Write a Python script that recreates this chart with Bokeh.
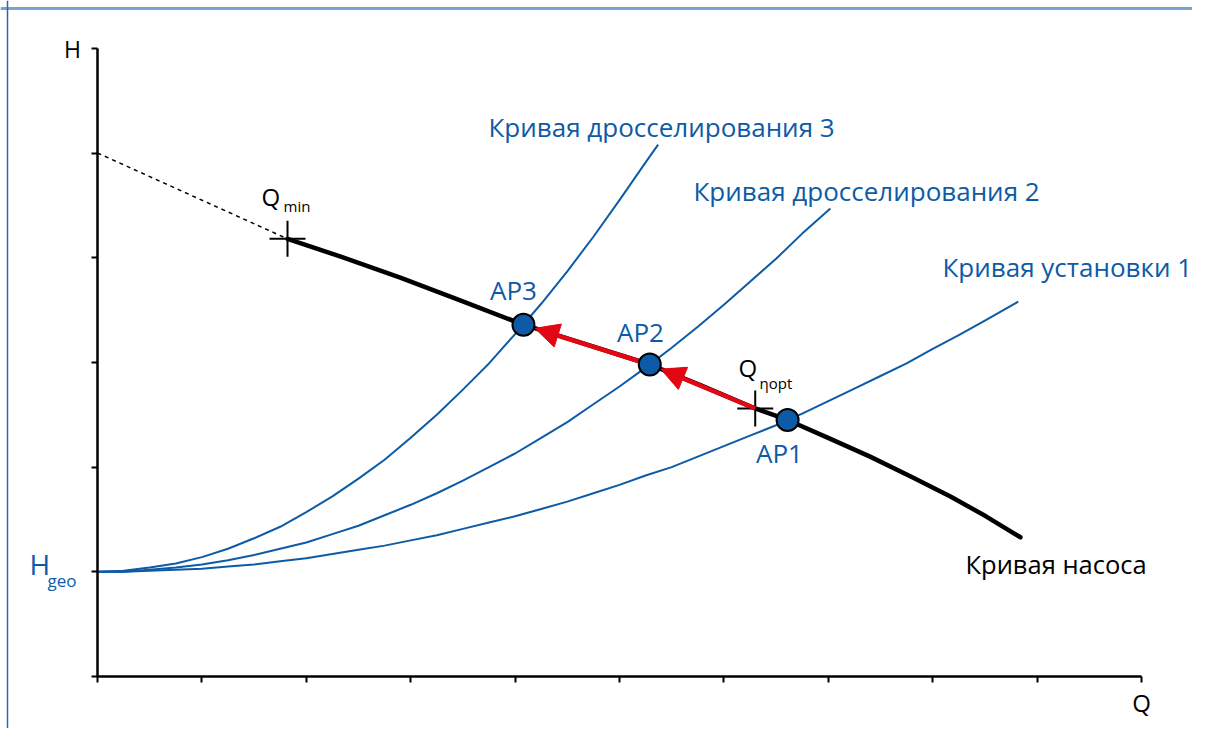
from math import hypot
from bokeh.plotting import figure
from bokeh.models import LinearAxis, FixedTicker, Span, Label, Arrow, NormalHead
from bokeh.embed import file_html
from bokeh.resources import INLINE

# ---------------- data ----------------
# pump curve (solid part, from Q_min onward)
q_pump = [1.82, 2.33, 2.90, 3.48, 4.08, 4.72, 5.29, 5.78, 6.30, 6.61, 7.02, 7.40, 7.79, 8.17, 8.51, 8.84]
h_pump = [4.18, 4.01, 3.81, 3.59, 3.36, 3.16, 2.98, 2.78, 2.56, 2.45, 2.27, 2.10, 1.91, 1.72, 1.53, 1.33]
# pump curve below Q_min (dashed)
q_pump_dash = [0.0, 1.82]
h_pump_dash = [5.0, 4.18]

# system curve 1 (Кривая установки 1)
q_sys1 = [0.0, 0.25, 0.5, 0.75, 1.0, 1.25, 1.5, 1.75, 2.0, 2.25, 2.5, 2.75, 3.0, 3.25, 3.5, 3.75,
          4.0, 4.25, 4.5, 4.75, 5.0, 5.25, 5.5, 5.75, 6.0, 6.25, 6.5, 6.75, 7.0, 7.25, 7.5, 7.75,
          8.0, 8.25, 8.5, 8.82]
h_sys1 = [1.00, 1.00, 1.01, 1.02, 1.03, 1.05, 1.07, 1.10, 1.13, 1.17, 1.21, 1.25, 1.30, 1.35, 1.41, 1.47,
          1.53, 1.60, 1.67, 1.75, 1.83, 1.92, 2.00, 2.10, 2.20, 2.30, 2.40, 2.51, 2.63, 2.75, 2.87, 2.99,
          3.13, 3.26, 3.40, 3.58]
# throttle curve 2
q_thr2 = [0.0, 0.25, 0.5, 0.75, 1.0, 1.25, 1.5, 1.75, 2.0, 2.25, 2.5, 2.75, 3.0, 3.25, 3.5, 3.75,
          4.0, 4.25, 4.5, 4.75, 5.0, 5.25, 5.5, 5.75, 6.0, 6.25, 6.5, 6.75, 7.02]
h_thr2 = [1.00, 1.00, 1.02, 1.04, 1.07, 1.11, 1.16, 1.22, 1.28, 1.36, 1.44, 1.54, 1.64, 1.75, 1.87, 2.00,
          2.13, 2.28, 2.43, 2.60, 2.77, 2.95, 3.14, 3.34, 3.55, 3.77, 3.99, 4.23, 4.47]
# throttle curve 3
q_thr3 = [0.0, 0.25, 0.5, 0.75, 1.0, 1.25, 1.5, 1.75, 2.0, 2.25, 2.5, 2.75, 3.0, 3.25, 3.5, 3.75,
          4.0, 4.25, 4.5, 4.75, 5.0, 5.25, 5.37]
h_thr3 = [1.00, 1.01, 1.04, 1.08, 1.14, 1.22, 1.32, 1.43, 1.57, 1.72, 1.89, 2.07, 2.28, 2.50, 2.74, 2.99,
          3.27, 3.56, 3.87, 4.20, 4.55, 4.91, 5.08]

# operating points
ap_names = ["AP1", "AP2", "AP3"]
ap_q = [6.61, 5.29, 4.08]
ap_h = [2.45, 2.98, 3.36]

# characteristic points (crosses): Q_min, Q_eta_opt
q_marks = [1.82, 6.30]
h_marks = [4.18, 2.56]

x_ticks = [0, 1, 2, 3, 4, 5, 6, 7, 8, 9, 10]
y_ticks = [0, 1, 2, 3, 4, 5, 6]

# ---------------- styling ----------------
BLUE = "#0d5ba6"
RED = "#e30613"
FONT = "Open Sans"
W, H = 1192, 728
PX_X, PX_Y = 104.4, 104.7          # pixels per unit
X0 = -97 / PX_X
X1 = X0 + W / PX_X
Y1 = 676 / PX_Y
Y0 = Y1 - H / PX_Y

p = figure(width=W, height=H, x_range=(X0, X1), y_range=(Y0, Y1),
           x_axis_type=None, y_axis_type=None, toolbar_location=None,
           output_backend="svg", min_border=0)
p.min_border_left = p.min_border_right = p.min_border_top = p.min_border_bottom = 0
p.outline_line_color = None
p.background_fill_color = "white"
p.border_fill_color = "white"


def make_axis(ticks, bounds):
    return LinearAxis(fixed_location=0, bounds=bounds, ticker=FixedTicker(ticks=ticks),
                      major_tick_out=6, major_tick_in=0, minor_tick_out=0, minor_tick_in=0,
                      axis_line_width=2.5, axis_line_color="black",
                      major_tick_line_width=2, major_tick_line_color="black",
                      major_label_overrides={t: "" for t in ticks},
                      major_label_standoff=0)


p.add_layout(make_axis(x_ticks, (0, 10)), "below")
p.add_layout(make_axis(y_ticks, (0, 6)), "left")

# frame borders (top / left)
p.add_layout(Span(location=(676 - 8) / PX_Y, dimension="width", line_color="#7ba4d2", line_width=3))
p.add_layout(Span(location=(7 - 97) / PX_X, dimension="height", line_color="#2f66a9", line_width=1.5))

# curves
for qs, hs in [(q_sys1, h_sys1), (q_thr2, h_thr2), (q_thr3, h_thr3)]:
    p.line(qs, hs, line_color=BLUE, line_width=2, line_join="round")
p.line(q_pump_dash, h_pump_dash, line_color="black", line_width=1.5, line_dash="4 4")
p.line(q_pump, h_pump, line_color="black", line_width=4.5, line_join="round", line_cap="round")

# crosses
p.scatter(q_marks, h_marks, marker="cross", size=36, line_color="black", line_width=2)


def edge_point(x0, y0, x1, y1, r_px):
    dx, dy = (x1 - x0) * PX_X, (y1 - y0) * PX_Y
    f = r_px / hypot(dx, dy)
    return x1 - (x1 - x0) * f, y1 - (y1 - y0) * f


R_PX = 12
segments = [(q_marks[1], h_marks[1], ap_q[1], ap_h[1]),
            (ap_q[1], ap_h[1], ap_q[2], ap_h[2])]
for xs, ys, xe, ye in segments:
    ex, ey = edge_point(xs, ys, xe, ye, R_PX)
    p.add_layout(Arrow(end=NormalHead(size=24, fill_color=RED, line_color=RED, line_width=1),
                       x_start=xs, y_start=ys, x_end=ex, y_end=ey,
                       line_color=RED, line_width=4.5))

# operating points on top
p.scatter(ap_q, ap_h, marker="circle", size=22, fill_color=BLUE, line_color="black",
          line_width=2, level="overlay")


def lab(px, py, text, size, color="black", align="left"):
    p.add_layout(Label(x=(px - 97) / PX_X, y=(676 - py) / PX_Y, text=text, text_font=FONT,
                       text_font_size=f"{size}px", text_color=color, text_align=align,
                       text_baseline="middle", level="overlay"))


lab(488, 126, "Кривая дросселирования 3", 26, BLUE)
lab(693, 190, "Кривая дросселирования 2", 26, BLUE)
lab(942, 266, "Кривая установки 1", 26, BLUE)
lab(965, 563, "Кривая насоса", 25.5, "black")

lab(513, 289, ap_names[2], 26, BLUE, align="center")
lab(640, 331, ap_names[1], 26, BLUE, align="center")
lab(779, 452, ap_names[0], 26, BLUE, align="center")

lab(261, 196, "Q", 24)
lab(283, 205, "min", 15)
lab(738, 367, "Q", 24)
lab(759, 382, "ηopt", 15)

lab(29, 563, "H", 28, BLUE)
lab(47, 580, "geo", 17, BLUE)

lab(72, 48, "H", 23, "black", align="center")
lab(1141, 702, "Q", 24, "black", align="center")

open("out.html", "w").write(file_html(p, INLINE))
